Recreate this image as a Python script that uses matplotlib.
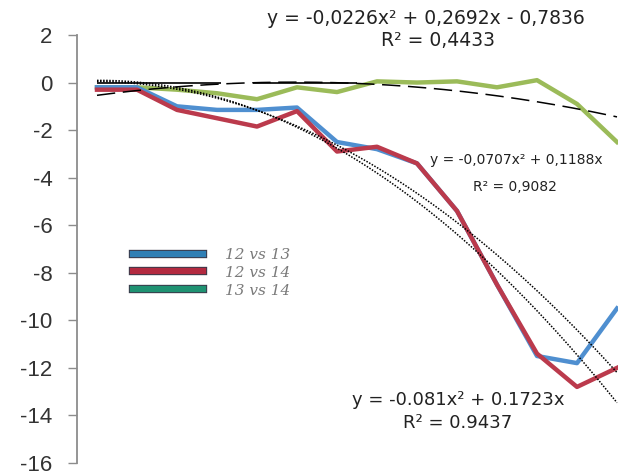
import matplotlib
matplotlib.use("Agg")
import matplotlib.pyplot as plt
import numpy as np
from matplotlib.lines import Line2D
import matplotlib.patheffects as pe

# ---- data ----
x_vals = list(range(1, 15))
blue_12_13 = [-0.2, -0.2, -1.0, -1.15, -1.15, -1.05, -2.5, -2.8, -3.4, -5.4, -8.5, -11.5, -11.8, -9.5]
red_12_14 = [-0.3, -0.3, -1.15, -1.5, -1.85, -1.2, -2.9, -2.7, -3.4, -5.4, -8.5, -11.4, -12.8, -12.0]
green_13_14 = [-0.2, -0.2, -0.3, -0.45, -0.7, -0.2, -0.4, 0.05, 0.0, 0.05, -0.2, 0.1, -0.9, -2.5]

# trendline coefficients (a, b, c) for a*x^2 + b*x + c
trend_blue = [-0.081, 0.1723, 0.0]
trend_red = [-0.0707, 0.1188, 0.0]
trend_green = [-0.0226, 0.2692, -0.7836]

legend_labels = ["12 vs 13", "12 vs 14", "13 vs 14"]
y_ticks = [2, 0, -2, -4, -6, -8, -10, -12, -14, -16]

line_colors = ["#4f8fd0", "#bb3a4c", "#9bbb59"]
legend_colors = ["#2f7fb5", "#b32a40", "#1f9272"]

W, H = 618, 475
fig = plt.figure(figsize=(W / 100, H / 100), dpi=100)
left, right = 77, 618
top, bottom = 35, 463
ax = fig.add_axes([left / W, 1 - bottom / H, (right - left) / W, (bottom - top) / H])
ax.set_xlim(0.5, 14.025)
ax.set_ylim(-16, 2)

# zero line (partially visible in the original)
ax.hlines([0, 0], [1.0, 4.9], [4.1, 7.5], color="black", lw=1.2, zorder=1)

xs = np.linspace(1, 14, 200)
for coef, ls in [(trend_blue, (0, (1, 1))), (trend_red, (0, (1, 1))), (trend_green, (0, (12, 5)))]:
    ax.plot(xs, np.polyval(coef, xs), color="black", lw=1.1, ls=ls, zorder=4)

ax.plot(x_vals, green_13_14, color=line_colors[2], lw=3.2, zorder=3, solid_joinstyle="round")
ax.plot(x_vals, blue_12_13, color=line_colors[0], lw=3.2, zorder=3, solid_joinstyle="round")
ax.plot(x_vals, red_12_14, color=line_colors[1], lw=3.2, zorder=3, solid_joinstyle="round")

for s in ["top", "right", "bottom"]:
    ax.spines[s].set_visible(False)
ax.spines["left"].set_color("#8c8c8c")
ax.spines["left"].set_linewidth(1.3)
ax.set_xticks([])
ax.set_yticks(y_ticks)
ax.set_yticklabels([str(t) for t in y_ticks])
ax.tick_params(axis="y", direction="out", length=6.5, width=1.0, color="#8c8c8c",
               pad=11, labelsize=16, labelcolor="#333333")
for lab in ax.get_yticklabels():
    lab.set_fontfamily("Liberation Sans")

# legend
handles = [Line2D([0], [0], color=c, lw=4.5,
                  path_effects=[pe.Stroke(linewidth=6, foreground="#3a3a4a"), pe.Normal()])
           for c in legend_colors]
leg = ax.legend(handles, legend_labels, loc="upper left",
                bbox_to_anchor=(133 / W, 1 - 248 / H), bbox_transform=fig.transFigure,
                frameon=False, handlelength=4.6, handletextpad=1.45, labelspacing=0.25,
                borderpad=0, borderaxespad=0, prop={"style": "italic", "size": 11, "family": "DejaVu Serif"})
for t in leg.get_texts():
    t.set_color("#7a7a7a")

# trendline labels
fkw = dict(family="DejaVu Sans", color="#222222")
fig.text(426 / W, 1 - 18 / H, "y = -0,0226x² + 0,2692x - 0,7836", ha="center", va="center", size=13.5, **fkw)
fig.text(438 / W, 1 - 40 / H, "R² = 0,4433", ha="center", va="center", size=13.5, **fkw)
fig.text(430 / W, 1 - 160 / H, "y = -0,0707x² + 0,1188x", ha="left", va="center", size=10, **fkw)
fig.text(515 / W, 1 - 187 / H, "R² = 0,9082", ha="center", va="center", size=10, **fkw)
fig.text(458 / W, 1 - 400 / H, "y = -0.081x² + 0.1723x", ha="center", va="center", size=13, **fkw)
fig.text(458 / W, 1 - 423 / H, "R² = 0.9437", ha="center", va="center", size=13, **fkw)

fig.savefig("out.png", dpi=100, facecolor="white")
